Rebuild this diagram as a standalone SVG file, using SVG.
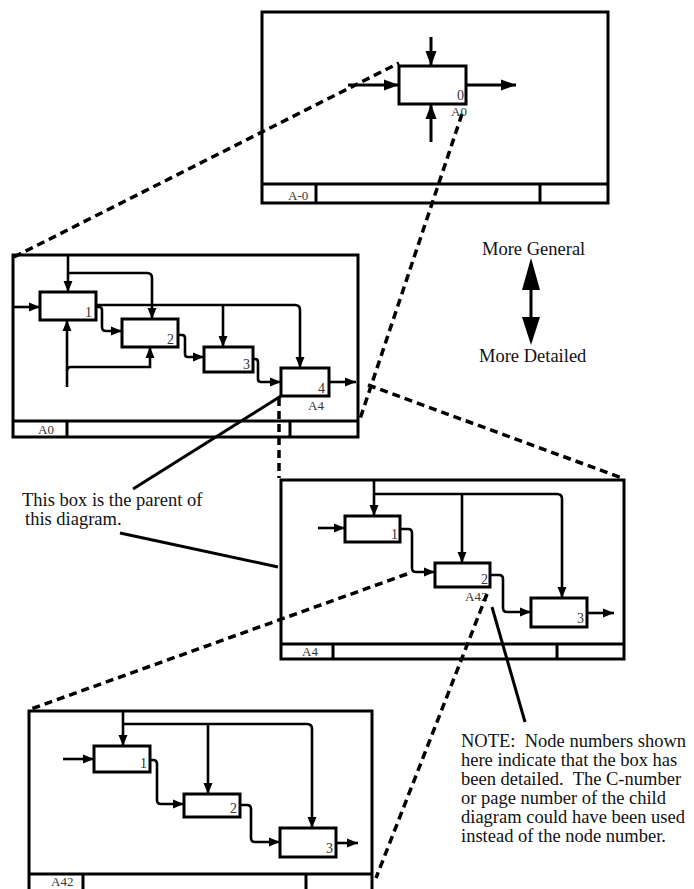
<svg xmlns="http://www.w3.org/2000/svg" width="694" height="889" viewBox="0 0 694 889">
  <style>
    .frame { fill: none; stroke: #000; stroke-width: 3; }
    .rule { fill: none; stroke: #000; stroke-width: 3; }
    .box { fill: #fff; stroke: #000; stroke-width: 3; }
    .arc { fill: none; stroke: #000; stroke-width: 2.6; marker-end: url(#arrow); }
    .arc-lg { fill: none; stroke: #000; stroke-width: 3; marker-end: url(#arrow-lg); }
    .dash { fill: none; stroke: #000; stroke-width: 3.5; stroke-dasharray: 8 5; }
    .lead { fill: none; stroke: #000; stroke-width: 3; }
    .num { font-family: "Liberation Serif", "Times New Roman", serif; font-size: 14px; fill: #333; }
    .tag { font-family: "Liberation Serif", "Times New Roman", serif; font-size: 13px; fill: #333; }
    .note { font-family: "Liberation Serif", "Times New Roman", serif; font-size: 18.5px; fill: #111; white-space: pre; }
  </style>
  <defs>
    <marker id="arrow" markerUnits="userSpaceOnUse" markerWidth="12" markerHeight="10" refX="11" refY="5" orient="auto">
      <path d="M0,0.5 L11,5 L0,9.5 Z" fill="#000"/>
    </marker>
    <marker id="arrow-lg" markerUnits="userSpaceOnUse" markerWidth="16" markerHeight="12" refX="15" refY="6" orient="auto">
      <path d="M0,0.5 L15,6 L0,11.5 Z" fill="#000"/>
    </marker>
  </defs>
  <rect width="694" height="889" fill="#fff"/>

  <!-- A-0 context diagram -->
  <g id="diagram-a-0">
    <rect class="frame" x="262" y="12" width="346" height="191"/>
    <path class="rule" d="M262 184 H608 M316 184 V203 M540 184 V203"/>
    <text class="tag" x="288" y="200">A-0</text>
    <g id="a0-box0">
      <rect class="box" x="399" y="66" width="67" height="38"/>
      <text class="num" x="457" y="100">0</text>
      <text class="tag" x="451" y="116">A0</text>
    </g>
    <g id="a0-arcs">
      <path class="arc-lg" d="M431 37 V66"/>
      <path class="arc-lg" d="M431 142 V104"/>
      <path class="arc-lg" d="M348 85 H399"/>
      <path class="arc-lg" d="M466 85 H516"/>
    </g>
  </g>

  <!-- A0 decomposition -->
  <g id="diagram-a0">
    <rect class="frame" x="13" y="255" width="345" height="182"/>
    <path class="rule" d="M13 421 H358 M67 421 V437 M290 421 V437"/>
    <text class="tag" x="38" y="434">A0</text>
    <g id="a0-n1"><rect class="box" x="40" y="292" width="56" height="28"/><text class="num" x="85" y="317">1</text></g>
    <g id="a0-n2"><rect class="box" x="122" y="319" width="56" height="28"/><text class="num" x="167" y="344">2</text></g>
    <g id="a0-n3"><rect class="box" x="204" y="347" width="49" height="25"/><text class="num" x="243" y="369">3</text></g>
    <g id="a0-n4"><rect class="box" x="281" y="368" width="48" height="28"/><text class="num" x="318" y="393">4</text><text class="tag" x="308" y="410">A4</text></g>
    <g id="a0-arcs-inner">
      <path class="arc" d="M13 307 H40"/>
      <path class="arc" d="M68 255 V292"/>
      <path class="arc" d="M68 273 H147 Q152 273 152 278 V319"/>
      <path class="arc" d="M96 305 H295 Q300 305 300 310 V368"/>
      <path class="arc" d="M223 305 V347"/>
      <path class="arc" d="M96 307 H99 Q102 307 102 310 V327 Q102 331 106 331 H122"/>
      <path class="arc" d="M178 335 H182 Q185 335 185 338 V354 Q185 357 188 357 H204"/>
      <path class="arc" d="M253 359 H255 Q258 359 258 362 V379 Q258 382 261 382 H281"/>
      <path class="arc" d="M329 382 H356"/>
      <path class="arc" d="M67 387 V320"/>
      <path class="arc" d="M67 371 Q67 367 71 367 H150 V347"/>
    </g>
  </g>

  <!-- A4 decomposition -->
  <g id="diagram-a4">
    <rect class="frame" x="281" y="480" width="343" height="179"/>
    <path class="rule" d="M281 644 H624 M333 644 V659 M557 644 V659"/>
    <text class="tag" x="302" y="656">A4</text>
    <g id="a4-n1"><rect class="box" x="345" y="516" width="55" height="26"/><text class="num" x="391" y="539">1</text></g>
    <g id="a4-n2"><rect class="box" x="435" y="563" width="55" height="24"/><text class="num" x="481" y="584">2</text><text class="tag" x="465" y="601">A42</text></g>
    <g id="a4-n3"><rect class="box" x="531" y="598" width="56" height="29"/><text class="num" x="577" y="623">3</text></g>
    <g id="a4-arcs">
      <path class="arc" d="M318 528 H345"/>
      <path class="arc" d="M374 480 V516"/>
      <path class="arc" d="M374 494 H557 Q562 494 562 499 V598"/>
      <path class="arc" d="M462 494 V563"/>
      <path class="arc" d="M400 529 H408 Q412 529 412 533 V568 Q412 572 416 572 H435"/>
      <path class="arc" d="M490 575 H499 Q503 575 503 579 V608 Q503 612 507 612 H531"/>
      <path class="arc" d="M587 613 H614"/>
    </g>
  </g>

  <!-- A42 decomposition -->
  <g id="diagram-a42">
    <rect class="frame" x="29" y="711" width="343" height="182"/>
    <path class="rule" d="M29 874 H372 M83 874 V893 M306 874 V893"/>
    <text class="tag" x="51" y="886">A42</text>
    <g id="a42-n1"><rect class="box" x="94" y="746" width="56" height="26"/><text class="num" x="140" y="768">1</text></g>
    <g id="a42-n2"><rect class="box" x="184" y="794" width="56" height="23"/><text class="num" x="230" y="813">2</text></g>
    <g id="a42-n3"><rect class="box" x="280" y="828" width="56" height="29"/><text class="num" x="326" y="853">3</text></g>
    <g id="a42-arcs">
      <path class="arc" d="M63 759 H94"/>
      <path class="arc" d="M123 711 V746"/>
      <path class="arc" d="M123 724 H307 Q312 724 312 729 V828"/>
      <path class="arc" d="M208 724 V794"/>
      <path class="arc" d="M150 760 H153 Q157 760 157 764 V800 Q157 804 161 804 H184"/>
      <path class="arc" d="M240 805 H247 Q251 805 251 809 V838 Q251 842 255 842 H280"/>
      <path class="arc" d="M336 843 H358"/>
    </g>
  </g>

  <!-- parent/child links and callout leaders -->
  <g id="connectors">
    <path class="dash" d="M14 257 L399 63"/>
    <path class="dash" d="M462 114 L360 419"/>
    <path class="dash" d="M279 398 V478"/>
    <path class="dash" d="M368 385 L622 478"/>
    <path class="dash" d="M407 574 L31 709"/>
    <path class="dash" d="M487 594 L376 878"/>
    <path class="lead" d="M133 489 L281 396"/>
    <path class="lead" d="M120 533 L278 567"/>
    <path class="lead" d="M492 607 L525 722"/>
  </g>

  <!-- abstraction direction -->
  <g id="direction">
    <text class="note" x="482" y="255">More General</text>
    <polygon points="531,258 522,290 540,290" fill="#000"/>
    <rect x="529.5" y="289" width="3" height="29" fill="#000"/>
    <polygon points="522,317 540,317 531,345" fill="#000"/>
    <text class="note" x="479" y="362">More Detailed</text>
  </g>

  <g id="callout-parent">
    <text class="note" x="22" y="506">This box is the parent of</text>
    <text class="note" x="25" y="525">this diagram.</text>
  </g>

  <g id="callout-note">
    <text class="note" x="461" y="747">NOTE:  Node numbers shown</text>
    <text class="note" x="461" y="766">here indicate that the box has</text>
    <text class="note" x="461" y="785">been detailed.  The C-number</text>
    <text class="note" x="461" y="804">or page number of the child</text>
    <text class="note" x="461" y="823">diagram could have been used</text>
    <text class="note" x="461" y="842">instead of the node number.</text>
  </g>
</svg>
